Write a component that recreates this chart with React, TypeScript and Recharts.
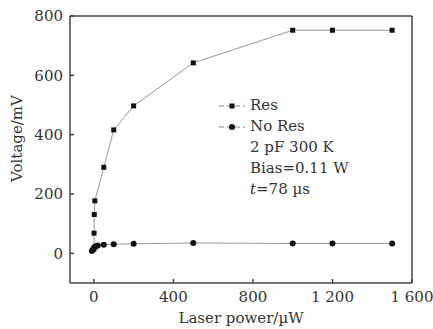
import React from 'react';
import { ComposedChart, Line, XAxis, YAxis, ReferenceLine } from 'recharts';

// Res series (square markers)
const resPower = [0, 1, 2, 5, 50, 100, 200, 500, 1000, 1200, 1500];
const resVoltage = [15, 68, 131, 177, 290, 416, 497, 642, 752, 752, 752];

// No Res series (round markers)
const noResPower = [-10, -5, 0, 5, 10, 20, 50, 100, 200, 500, 1000, 1200, 1500];
const noResVoltage = [8, 12, 18, 22, 24, 26, 29, 31, 32, 35, 33, 33, 33];

const xTicks = [0, 400, 800, 1200, 1600];
const yTicks = [0, 200, 400, 600, 800];
const notes = ['2 pF 300 K', 'Bias=0.11 W'];

const resData = resPower.map((x, i) => ({ x, y: resVoltage[i] }));
const noResData = noResPower.map((x, i) => ({ x, y: noResVoltage[i] }));

const FONT = '"DejaVu Serif", serif';
const AXIS = '#444';

const fmt = (v: number) => (v >= 1000 ? String(v).replace(/(\d)(\d{3})$/, '$1 $2') : String(v));

const SquareDot = (p: any) => (
  <rect key={`s${p.index}`} x={p.cx - 2.5} y={p.cy - 2.5} width={5} height={5} fill="#111" />
);
const RoundDot = (p: any) => <circle key={`c${p.index}`} cx={p.cx} cy={p.cy} r={3} fill="#111" />;

const LegendBox = () => {
  const mark = (square: boolean) => (
    <svg width={28} height={10} style={{ marginRight: 4 }}>
      <line x1={1} y1={5} x2={27} y2={5} stroke="#888" strokeDasharray="5 3" />
      {square ? <rect x={11.5} y={2.5} width={5} height={5} fill="#111" /> : <circle cx={14} cy={5} r={3} fill="#111" />}
    </svg>
  );
  const row = { display: 'flex', alignItems: 'center', height: 21 } as React.CSSProperties;
  return (
    <div style={{ position: 'absolute', left: 218, top: 95, fontFamily: FONT, fontSize: 15, color: '#333', lineHeight: '21px' }}>
      <div style={row}>{mark(true)}Res</div>
      <div style={row}>{mark(false)}No Res</div>
      {notes.map(n => (
        <div key={n} style={{ paddingLeft: 32 }}>{n}</div>
      ))}
      <div style={{ paddingLeft: 32 }}>
        <i>t</i>=78 µs
      </div>
    </div>
  );
};

const App: React.FC = () => {
  return (
    <div style={{ position: 'absolute', left: 0, top: 0, width: 433, height: 329, background: '#fff' }}>
      <ComposedChart width={433} height={329} margin={{ top: 16, right: 21, bottom: 0, left: 20 }}>
        <XAxis
          dataKey="x"
          type="number"
          domain={[-120, 1600]}
          ticks={xTicks}
          tickFormatter={fmt}
          allowDataOverflow
          height={46}
          stroke={AXIS}
          strokeWidth={1.5}
          tickSize={-4}
          tickMargin={12}
          tick={{ fill: '#333', fontFamily: FONT, fontSize: 15 }}
          label={{ value: 'Laser power/µW', position: 'insideBottom', offset: 6, fill: '#333', fontFamily: FONT, fontSize: 15 }}
        />
        <YAxis
          dataKey="y"
          type="number"
          domain={[-100, 800]}
          ticks={yTicks}
          allowDataOverflow
          width={50}
          stroke={AXIS}
          strokeWidth={1.5}
          tickSize={-4}
          tickMargin={11}
          tick={{ fill: '#333', fontFamily: FONT, fontSize: 15 }}
          label={{
            content: (props: any) => {
              const vb = props.viewBox || { y: 16, height: 267 };
              const cy = vb.y + vb.height / 2 - 11;
              return (
                <text x={17} y={cy} transform={`rotate(-90 17 ${cy})`} textAnchor="middle" dominantBaseline="central" fill="#333" fontFamily={FONT} fontSize={15}>
                  Voltage/mV
                </text>
              );
            },
          }}
        />
        <ReferenceLine y={800} stroke={AXIS} strokeWidth={1.5} />
        <ReferenceLine x={1600} stroke={AXIS} strokeWidth={1.5} />
        <Line data={resData} dataKey="y" stroke="#999" strokeWidth={1} dot={SquareDot} isAnimationActive={false} />
        <Line data={noResData} dataKey="y" stroke="#999" strokeWidth={1} dot={RoundDot} isAnimationActive={false} />
      </ComposedChart>
      <LegendBox />
    </div>
  );
};

export default App;
